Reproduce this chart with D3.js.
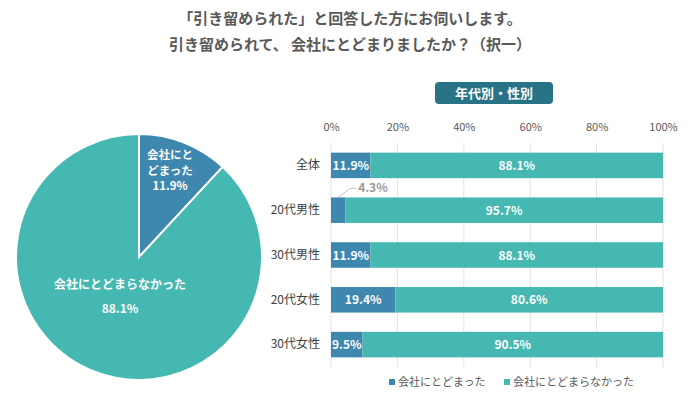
<!DOCTYPE html>
<html><head><meta charset="utf-8">
<script src="https://cdn.jsdelivr.net/npm/d3@7"></script>
<style>
body{margin:0;background:#fff;}
svg{font-family:"Noto Sans CJK JP","Noto Sans",sans-serif;}
</style></head>
<body><svg id="c" width="700" height="400"></svg>
<script>
const titleLines = ["「引き留められた」と回答した方にお伺いします。","引き留められて、 会社にとどまりましたか？（択一）"];
const seriesNames = ["会社にとどまった","会社にとどまらなかった"];
const pieValues = [11.9, 88.1];
const categories = ["全体","20代男性","30代男性","20代女性","30代女性"];
const stayed = [11.9, 4.3, 11.9, 19.4, 9.5];
const left = [88.1, 95.7, 88.1, 80.6, 90.5];
const xTicks = [0,20,40,60,80,100];
const badgeText = "年代別・性別";
const colors = ["#3E87AE","#45B8B1"];

const svg = d3.select("#c");

// Title
svg.selectAll("text.title").data(titleLines).join("text")
  .attr("x",350).attr("y",(d,i)=>24+i*26).attr("text-anchor","middle")
  .attr("font-size",15).attr("font-weight","bold").attr("fill","#595959").text(d=>d);

// Pie
const pieG = svg.append("g").attr("transform","translate(139,257)");
const R = 123;
const pie = d3.pie().sort(null).value(d=>d);
const arc = d3.arc().innerRadius(0).outerRadius(R);
const arcs = pie(pieValues);
pieG.selectAll("path").data(arcs).join("path")
  .attr("d",arc).attr("fill",(d,i)=>colors[i]).attr("stroke","#fff").attr("stroke-width",2);
// pie labels
[["会社にと",-98],["どまった",-82.5],[pieValues[0].toFixed(1)+"%",-67]].forEach(([t,yy])=>{
  pieG.append("text").attr("x",31).attr("y",yy).attr("fill","#fff").attr("font-weight","bold")
    .attr("font-size",11.5).attr("text-anchor","middle").text(t);
});
pieG.append("text").attr("x",-19).attr("y",32).attr("text-anchor","middle").attr("fill","#fff")
  .attr("font-weight","bold").attr("font-size",12).text(seriesNames[1]);
pieG.append("text").attr("x",-19).attr("y",56).attr("text-anchor","middle").attr("fill","#fff")
  .attr("font-weight","bold").attr("font-size",12).text(pieValues[1].toFixed(1)+"%");

// Badge
const bg = svg.append("g");
bg.append("rect").attr("x",435).attr("y",82).attr("width",118).attr("height",22).attr("rx",4).attr("fill","#287486");
bg.append("text").attr("x",494).attr("y",98).attr("text-anchor","middle").attr("fill","#fff")
  .attr("font-weight","bold").attr("font-size",13).text(badgeText);

// Bar chart
const x = d3.scaleLinear().domain([0,100]).range([331,663]);
const y = d3.scaleBand().domain(categories).range([143,367]).paddingInner(0.43).paddingOuter(0.215);

svg.append("g").selectAll("line").data(xTicks).join("line")
  .attr("x1",d=>x(d)).attr("x2",d=>x(d)).attr("y1",143).attr("y2",367)
  .attr("stroke","#e3e3e3").attr("stroke-width",1);

const xAxis = svg.append("g").attr("transform","translate(0,131)")
  .call(d3.axisTop(x).tickValues(xTicks).tickFormat(d=>d+"%").tickSize(0).tickPadding(0));
xAxis.select(".domain").remove();
xAxis.selectAll("text").attr("font-size",11).attr("fill","#595959").attr("font-family","'Noto Sans CJK JP',sans-serif");

const yAxis = svg.append("g").attr("transform","translate(320,0)")
  .call(d3.axisLeft(y).tickSize(0).tickPadding(0));
yAxis.select(".domain").remove();
yAxis.selectAll("text").attr("font-size",12).attr("fill","#404040").attr("font-family","'Noto Sans CJK JP',sans-serif");

const rows = categories.map((c,i)=>({c, a:stayed[i], b:left[i]}));
const g = svg.append("g");
g.selectAll("rect.a").data(rows).join("rect").attr("class","a")
  .attr("x",x(0)).attr("y",d=>y(d.c)).attr("width",d=>x(d.a)-x(0)).attr("height",y.bandwidth()).attr("fill",colors[0]);
g.selectAll("rect.b").data(rows).join("rect").attr("class","b")
  .attr("x",d=>x(d.a)).attr("y",d=>y(d.c)).attr("width",d=>x(d.a+d.b)-x(d.a)).attr("height",y.bandwidth()).attr("fill",colors[1]);

// labels
g.selectAll("text.a").data(rows.filter(d=>d.a>=5)).join("text").attr("class","a")
  .attr("x",d=>(x(0)+x(d.a))/2).attr("y",d=>y(d.c)+y.bandwidth()/2+4.5)
  .attr("text-anchor","middle").attr("fill","#fff").attr("font-weight","bold").attr("font-size",12)
  .text(d=>d.a.toFixed(1)+"%");
g.selectAll("text.b").data(rows).join("text").attr("class","b")
  .attr("x",d=>(x(d.a)+x(d.a+d.b))/2).attr("y",d=>y(d.c)+y.bandwidth()/2+4.5)
  .attr("text-anchor","middle").attr("fill","#fff").attr("font-weight","bold").attr("font-size",12)
  .text(d=>d.b.toFixed(1)+"%");
// outside label for small values
rows.filter(d=>d.a<5).forEach(d=>{
  const bx = (x(0)+x(d.a))/2, by = y(d.c);
  g.append("path").attr("d",`M${bx},${by}L${bx+12},${by-9}L${bx+18},${by-9}`)
    .attr("fill","none").attr("stroke","#bfbfbf").attr("stroke-width",1);
  g.append("text").attr("x",bx+20).attr("y",by-5).attr("fill","#999").attr("font-weight","bold")
    .attr("font-size",12).text(d.a.toFixed(1)+"%");
});

// Legend
const lg = svg.append("g");
const lx = [389, 504];
seriesNames.forEach((n,i)=>{
  lg.append("rect").attr("x",lx[i]).attr("y",379).attr("width",6).attr("height",6).attr("fill",colors[i]);
  lg.append("text").attr("x",lx[i]+9).attr("y",386).attr("font-size",11).attr("fill","#595959").text(n);
});
</script></body></html>
